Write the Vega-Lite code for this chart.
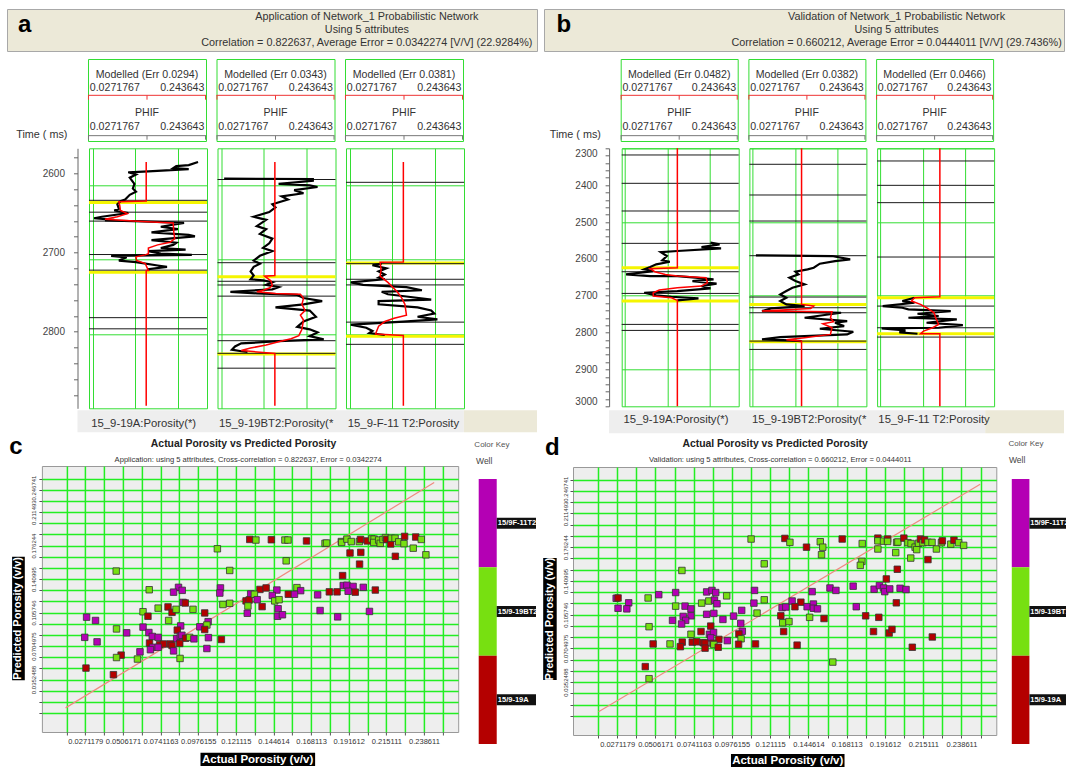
{
"$schema":"https://vega.github.io/schema/vega-lite/v6.json",
"padding":{"left":6,"top":8,"right":0,"bottom":0},
"background":"white",
"data":{"values":[{}]},
"config":{"font":"Liberation Sans","view":{"stroke":"#33dd33","strokeWidth":1}},
"datasets":{
"hdrA":[{"w":"15_9-19A","err":"Modelled (Err 0.0294)"},{"w":"15_9-19BT2","err":"Modelled (Err 0.0343)"},{"w":"15_9-F-11 T2","err":"Modelled (Err 0.0381)"}],
"hdrB":[{"w":"15_9-19A","err":"Modelled (Err 0.0482)"},{"w":"15_9-19BT2","err":"Modelled (Err 0.0382)"},{"w":"15_9-F-11 T2","err":"Modelled (Err 0.0466)"}],
"wells":[{"w":"15/9F-11T2"},{"w":"15/9-19BT2"},{"w":"15/9-19A"}],
"logA":[
{"w":"15_9-19A","k":"zone","t":2623},{"w":"15_9-19A","k":"zone","t":2717},
{"w":"15_9-19A","k":"top","t":2620},{"w":"15_9-19A","k":"top","t":2636},{"w":"15_9-19A","k":"top","t":2648},{"w":"15_9-19A","k":"top","t":2693},{"w":"15_9-19A","k":"top","t":2714},{"w":"15_9-19A","k":"top","t":2778},{"w":"15_9-19A","k":"top","t":2793},
{"w":"15_9-19A","k":"obs","t":2568.4,"p":0.24175},{"w":"15_9-19A","k":"obs","t":2572.6,"p":0.22282},{"w":"15_9-19A","k":"obs","t":2573.9,"p":0.19757},{"w":"15_9-19A","k":"obs","t":2576.8,"p":0.19126},{"w":"15_9-19A","k":"obs","t":2578.1,"p":0.22282},{"w":"15_9-19A","k":"obs","t":2581.1,"p":0.14077},{"w":"15_9-19A","k":"obs","t":2582.3,"p":0.09975},{"w":"15_9-19A","k":"obs","t":2585.3,"p":0.11553},{"w":"15_9-19A","k":"obs","t":2589.5,"p":0.10291},{"w":"15_9-19A","k":"obs","t":2597.9,"p":0.11237},{"w":"15_9-19A","k":"obs","t":2604.2,"p":0.10922},{"w":"15_9-19A","k":"obs","t":2608.4,"p":0.11553},{"w":"15_9-19A","k":"obs","t":2612.6,"p":0.10291},{"w":"15_9-19A","k":"obs","t":2618.9,"p":0.09344},{"w":"15_9-19A","k":"obs","t":2621.1,"p":0.08398},{"w":"15_9-19A","k":"obs","t":2625.3,"p":0.07767},{"w":"15_9-19A","k":"obs","t":2631.6,"p":0.08082},{"w":"15_9-19A","k":"obs","t":2633.7,"p":0.07135},{"w":"15_9-19A","k":"obs","t":2637.1,"p":0.09975},{"w":"15_9-19A","k":"obs","t":2642.1,"p":0.04611},{"w":"15_9-19A","k":"obs","t":2644.2,"p":0.03033},{"w":"15_9-19A","k":"obs","t":2646.3,"p":0.07135},{"w":"15_9-19A","k":"obs","t":2647.2,"p":0.05242},{"w":"15_9-19A","k":"obs","t":2648.4,"p":0.12815},{"w":"15_9-19A","k":"obs","t":2650.5,"p":0.21335},{"w":"15_9-19A","k":"obs","t":2655.6,"p":0.16602},{"w":"15_9-19A","k":"obs","t":2658.9,"p":0.20073},{"w":"15_9-19A","k":"obs","t":2663.2,"p":0.14708},{"w":"15_9-19A","k":"obs","t":2666.5,"p":0.22282},{"w":"15_9-19A","k":"obs","t":2668.6,"p":0.23544},{"w":"15_9-19A","k":"obs","t":2673.7,"p":0.14708},{"w":"15_9-19A","k":"obs","t":2677.1,"p":0.19757},{"w":"15_9-19A","k":"obs","t":2680.0,"p":0.19126},{"w":"15_9-19A","k":"obs","t":2684.2,"p":0.16602},{"w":"15_9-19A","k":"obs","t":2686.3,"p":0.21651},{"w":"15_9-19A","k":"obs","t":2688.4,"p":0.14077},{"w":"15_9-19A","k":"obs","t":2691.8,"p":0.16602},{"w":"15_9-19A","k":"obs","t":2693.5,"p":0.22913},{"w":"15_9-19A","k":"obs","t":2694.7,"p":0.06504},{"w":"15_9-19A","k":"obs","t":2696.8,"p":0.0966},{"w":"15_9-19A","k":"obs","t":2701.1,"p":0.08082},{"w":"15_9-19A","k":"obs","t":2703.2,"p":0.11553},{"w":"15_9-19A","k":"obs","t":2707.8,"p":0.15971},{"w":"15_9-19A","k":"obs","t":2709.5,"p":0.17864},{"w":"15_9-19A","k":"obs","t":2712.8,"p":0.14077},{"w":"15_9-19A","k":"obs","t":2714.5,"p":0.14077},
{"w":"15_9-19A","k":"mod","t":2568.4,"p":0.13636},{"w":"15_9-19A","k":"mod","t":2621.1,"p":0.13636},{"w":"15_9-19A","k":"mod","t":2621.9,"p":0.08082},{"w":"15_9-19A","k":"mod","t":2627.4,"p":0.08271},{"w":"15_9-19A","k":"mod","t":2633.7,"p":0.08397},{"w":"15_9-19A","k":"mod","t":2637.9,"p":0.09786},{"w":"15_9-19A","k":"mod","t":2642.1,"p":0.07766},{"w":"15_9-19A","k":"mod","t":2645.5,"p":0.05242},{"w":"15_9-19A","k":"mod","t":2648.4,"p":0.12815},{"w":"15_9-19A","k":"mod","t":2650.5,"p":0.19126},{"w":"15_9-19A","k":"mod","t":2663.2,"p":0.19252},{"w":"15_9-19A","k":"mod","t":2671.6,"p":0.19441},{"w":"15_9-19A","k":"mod","t":2676.6,"p":0.18495},{"w":"15_9-19A","k":"mod","t":2680.0,"p":0.15971},{"w":"15_9-19A","k":"mod","t":2684.2,"p":0.14077},{"w":"15_9-19A","k":"mod","t":2691.8,"p":0.14077},{"w":"15_9-19A","k":"mod","t":2693.5,"p":0.13446},{"w":"15_9-19A","k":"mod","t":2696.0,"p":0.11551},{"w":"15_9-19A","k":"mod","t":2701.1,"p":0.11678},{"w":"15_9-19A","k":"mod","t":2705.3,"p":0.13446},{"w":"15_9-19A","k":"mod","t":2714.5,"p":0.14077},{"w":"15_9-19A","k":"mod","t":2714.6,"p":0.13636},{"w":"15_9-19A","k":"mod","t":2896.7,"p":0.13636},
{"w":"15_9-19BT2","k":"zone","t":2723},{"w":"15_9-19BT2","k":"zone","t":2827},
{"w":"15_9-19BT2","k":"top","t":2592},{"w":"15_9-19BT2","k":"top","t":2704},{"w":"15_9-19BT2","k":"top","t":2729},{"w":"15_9-19BT2","k":"top","t":2734},{"w":"15_9-19BT2","k":"top","t":2749},{"w":"15_9-19BT2","k":"top","t":2809},{"w":"15_9-19BT2","k":"top","t":2826},{"w":"15_9-19BT2","k":"top","t":2846},
{"w":"15_9-19BT2","k":"obs","t":2590.7,"p":0.0335},{"w":"15_9-19BT2","k":"obs","t":2591.6,"p":0.2139},{"w":"15_9-19BT2","k":"obs","t":2593.7,"p":0.2139},{"w":"15_9-19BT2","k":"obs","t":2597.9,"p":0.14427},{"w":"15_9-19BT2","k":"obs","t":2600.0,"p":0.20756},{"w":"15_9-19BT2","k":"obs","t":2602.1,"p":0.22339},{"w":"15_9-19BT2","k":"obs","t":2606.3,"p":0.17592},{"w":"15_9-19BT2","k":"obs","t":2610.5,"p":0.19491},{"w":"15_9-19BT2","k":"obs","t":2614.7,"p":0.1506},{"w":"15_9-19BT2","k":"obs","t":2618.9,"p":0.16326},{"w":"15_9-19BT2","k":"obs","t":2625.3,"p":0.13161},{"w":"15_9-19BT2","k":"obs","t":2629.5,"p":0.13794},{"w":"15_9-19BT2","k":"obs","t":2635.8,"p":0.12528},{"w":"15_9-19BT2","k":"obs","t":2642.1,"p":0.09364},{"w":"15_9-19BT2","k":"obs","t":2646.3,"p":0.11895},{"w":"15_9-19BT2","k":"obs","t":2654.7,"p":0.09997},{"w":"15_9-19BT2","k":"obs","t":2658.9,"p":0.11895},{"w":"15_9-19BT2","k":"obs","t":2665.3,"p":0.10629},{"w":"15_9-19BT2","k":"obs","t":2671.6,"p":0.13161},{"w":"15_9-19BT2","k":"obs","t":2677.9,"p":0.12528},{"w":"15_9-19BT2","k":"obs","t":2684.2,"p":0.11263},{"w":"15_9-19BT2","k":"obs","t":2688.4,"p":0.13161},{"w":"15_9-19BT2","k":"obs","t":2694.7,"p":0.10629},{"w":"15_9-19BT2","k":"obs","t":2701.1,"p":0.09364},{"w":"15_9-19BT2","k":"obs","t":2705.3,"p":0.10629},{"w":"15_9-19BT2","k":"obs","t":2709.5,"p":0.09364},{"w":"15_9-19BT2","k":"obs","t":2715.8,"p":0.08731},{"w":"15_9-19BT2","k":"obs","t":2721.3,"p":0.09364},{"w":"15_9-19BT2","k":"obs","t":2726.3,"p":0.08731},{"w":"15_9-19BT2","k":"obs","t":2727.6,"p":0.11263},{"w":"15_9-19BT2","k":"obs","t":2730.5,"p":0.13161},{"w":"15_9-19BT2","k":"obs","t":2733.9,"p":0.11895},{"w":"15_9-19BT2","k":"obs","t":2736.8,"p":0.14427},{"w":"15_9-19BT2","k":"obs","t":2739.8,"p":0.13161},{"w":"15_9-19BT2","k":"obs","t":2743.2,"p":0.04616},{"w":"15_9-19BT2","k":"obs","t":2745.3,"p":0.09997},{"w":"15_9-19BT2","k":"obs","t":2747.4,"p":0.18225},{"w":"15_9-19BT2","k":"obs","t":2751.6,"p":0.19491},{"w":"15_9-19BT2","k":"obs","t":2755.8,"p":0.23288},{"w":"15_9-19BT2","k":"obs","t":2760.0,"p":0.19491},{"w":"15_9-19BT2","k":"obs","t":2764.2,"p":0.13794},{"w":"15_9-19BT2","k":"obs","t":2768.4,"p":0.20756},{"w":"15_9-19BT2","k":"obs","t":2776.8,"p":0.22022},{"w":"15_9-19BT2","k":"obs","t":2783.2,"p":0.19491},{"w":"15_9-19BT2","k":"obs","t":2790.3,"p":0.18225},{"w":"15_9-19BT2","k":"obs","t":2793.7,"p":0.20756},{"w":"15_9-19BT2","k":"obs","t":2797.9,"p":0.22339},{"w":"15_9-19BT2","k":"obs","t":2802.9,"p":0.20756},{"w":"15_9-19BT2","k":"obs","t":2807.2,"p":0.23604},{"w":"15_9-19BT2","k":"obs","t":2809.7,"p":0.14427},{"w":"15_9-19BT2","k":"obs","t":2812.6,"p":0.06832},{"w":"15_9-19BT2","k":"obs","t":2816.8,"p":0.05566},{"w":"15_9-19BT2","k":"obs","t":2821.1,"p":0.04932},{"w":"15_9-19BT2","k":"obs","t":2823.2,"p":0.06832},{"w":"15_9-19BT2","k":"obs","t":2824.0,"p":0.08098},
{"w":"15_9-19BT2","k":"mod","t":2568.4,"p":0.13668},{"w":"15_9-19BT2","k":"mod","t":2721.3,"p":0.13668},{"w":"15_9-19BT2","k":"mod","t":2722.1,"p":0.11579},{"w":"15_9-19BT2","k":"mod","t":2728.4,"p":0.12845},{"w":"15_9-19BT2","k":"mod","t":2734.7,"p":0.13161},{"w":"15_9-19BT2","k":"mod","t":2738.1,"p":0.12528},{"w":"15_9-19BT2","k":"mod","t":2741.1,"p":0.11263},{"w":"15_9-19BT2","k":"mod","t":2743.2,"p":0.09997},{"w":"15_9-19BT2","k":"mod","t":2745.3,"p":0.13794},{"w":"15_9-19BT2","k":"mod","t":2746.5,"p":0.18858},{"w":"15_9-19BT2","k":"mod","t":2751.6,"p":0.19491},{"w":"15_9-19BT2","k":"mod","t":2760.0,"p":0.19174},{"w":"15_9-19BT2","k":"mod","t":2768.4,"p":0.19807},{"w":"15_9-19BT2","k":"mod","t":2774.7,"p":0.18858},{"w":"15_9-19BT2","k":"mod","t":2781.1,"p":0.19491},{"w":"15_9-19BT2","k":"mod","t":2793.7,"p":0.19174},{"w":"15_9-19BT2","k":"mod","t":2802.1,"p":0.18541},{"w":"15_9-19BT2","k":"mod","t":2806.3,"p":0.16959},{"w":"15_9-19BT2","k":"mod","t":2810.5,"p":0.14427},{"w":"15_9-19BT2","k":"mod","t":2814.7,"p":0.11895},{"w":"15_9-19BT2","k":"mod","t":2818.9,"p":0.08731},{"w":"15_9-19BT2","k":"mod","t":2822.3,"p":0.06832},{"w":"15_9-19BT2","k":"mod","t":2826.1,"p":0.13668},{"w":"15_9-19BT2","k":"mod","t":2896.7,"p":0.13668},
{"w":"15_9-F-11 T2","k":"zone","t":2704.4},{"w":"15_9-F-11 T2","k":"zone","t":2802.9},
{"w":"15_9-F-11 T2","k":"top","t":2595.8},{"w":"15_9-F-11 T2","k":"top","t":2705.3},{"w":"15_9-F-11 T2","k":"top","t":2726.3},{"w":"15_9-F-11 T2","k":"top","t":2733.9},{"w":"15_9-F-11 T2","k":"top","t":2784.0},{"w":"15_9-F-11 T2","k":"top","t":2813.9},
{"w":"15_9-F-11 T2","k":"obs","t":2705.3,"p":0.09262},{"w":"15_9-F-11 T2","k":"obs","t":2707.4,"p":0.07374},{"w":"15_9-F-11 T2","k":"obs","t":2711.6,"p":0.10206},{"w":"15_9-F-11 T2","k":"obs","t":2715.8,"p":0.08633},{"w":"15_9-F-11 T2","k":"obs","t":2720.0,"p":0.09891},{"w":"15_9-F-11 T2","k":"obs","t":2724.2,"p":0.08633},{"w":"15_9-F-11 T2","k":"obs","t":2726.3,"p":0.09891},{"w":"15_9-F-11 T2","k":"obs","t":2730.5,"p":0.02969},{"w":"15_9-F-11 T2","k":"obs","t":2733.9,"p":0.05486},{"w":"15_9-F-11 T2","k":"obs","t":2736.8,"p":0.14296},{"w":"15_9-F-11 T2","k":"obs","t":2741.1,"p":0.17443},{"w":"15_9-F-11 T2","k":"obs","t":2743.2,"p":0.09262},{"w":"15_9-F-11 T2","k":"obs","t":2746.5,"p":0.10521},{"w":"15_9-F-11 T2","k":"obs","t":2749.5,"p":0.14296},{"w":"15_9-F-11 T2","k":"obs","t":2753.7,"p":0.19331},{"w":"15_9-F-11 T2","k":"obs","t":2755.8,"p":0.08633},{"w":"15_9-F-11 T2","k":"obs","t":2760.0,"p":0.08633},{"w":"15_9-F-11 T2","k":"obs","t":2764.2,"p":0.16555},{"w":"15_9-F-11 T2","k":"obs","t":2768.4,"p":0.19331},{"w":"15_9-F-11 T2","k":"obs","t":2772.6,"p":0.1996},{"w":"15_9-F-11 T2","k":"obs","t":2776.8,"p":0.16555},{"w":"15_9-F-11 T2","k":"obs","t":2780.2,"p":0.20589},{"w":"15_9-F-11 T2","k":"obs","t":2783.2,"p":0.13667},{"w":"15_9-F-11 T2","k":"obs","t":2787.4,"p":0.02969},{"w":"15_9-F-11 T2","k":"obs","t":2791.6,"p":0.06115},{"w":"15_9-F-11 T2","k":"obs","t":2795.8,"p":0.07374},{"w":"15_9-F-11 T2","k":"obs","t":2798.7,"p":0.06744},{"w":"15_9-F-11 T2","k":"obs","t":2801.3,"p":0.09891},
{"w":"15_9-F-11 T2","k":"mod","t":2568.4,"p":0.13667},{"w":"15_9-F-11 T2","k":"mod","t":2703.2,"p":0.13667},{"w":"15_9-F-11 T2","k":"mod","t":2703.3,"p":0.08947},{"w":"15_9-F-11 T2","k":"mod","t":2713.7,"p":0.09136},{"w":"15_9-F-11 T2","k":"mod","t":2722.1,"p":0.08947},{"w":"15_9-F-11 T2","k":"mod","t":2730.5,"p":0.1052},{"w":"15_9-F-11 T2","k":"mod","t":2743.2,"p":0.12409},{"w":"15_9-F-11 T2","k":"mod","t":2751.6,"p":0.13352},{"w":"15_9-F-11 T2","k":"mod","t":2760.0,"p":0.13982},{"w":"15_9-F-11 T2","k":"mod","t":2774.7,"p":0.14296},{"w":"15_9-F-11 T2","k":"mod","t":2778.9,"p":0.11779},{"w":"15_9-F-11 T2","k":"mod","t":2783.2,"p":0.09892},{"w":"15_9-F-11 T2","k":"mod","t":2789.5,"p":0.08633},{"w":"15_9-F-11 T2","k":"mod","t":2800.0,"p":0.08004},{"w":"15_9-F-11 T2","k":"mod","t":2802.1,"p":0.13667},{"w":"15_9-F-11 T2","k":"mod","t":2896.7,"p":0.13667}
],
"logB":[
{"w":"15_9-19A","k":"zone","t":2624.0},{"w":"15_9-19A","k":"zone","t":2714.5},
{"w":"15_9-19A","k":"top","t":2318.1},{"w":"15_9-19A","k":"top","t":2395.0},{"w":"15_9-19A","k":"top","t":2470.1},{"w":"15_9-19A","k":"top","t":2557.9},{"w":"15_9-19A","k":"top","t":2634.9},{"w":"15_9-19A","k":"top","t":2693.7},{"w":"15_9-19A","k":"top","t":2777.8},{"w":"15_9-19A","k":"top","t":2794.1},
{"w":"15_9-19A","k":"obs","t":2556.1,"p":0.2022},{"w":"15_9-19A","k":"obs","t":2560.6,"p":0.22076},{"w":"15_9-19A","k":"obs","t":2567.9,"p":0.18365},{"w":"15_9-19A","k":"obs","t":2571.5,"p":0.22385},{"w":"15_9-19A","k":"obs","t":2578.7,"p":0.13417},{"w":"15_9-19A","k":"obs","t":2581.5,"p":0.10016},{"w":"15_9-19A","k":"obs","t":2592.3,"p":0.11253},{"w":"15_9-19A","k":"obs","t":2604.1,"p":0.10325},{"w":"15_9-19A","k":"obs","t":2607.7,"p":0.11871},{"w":"15_9-19A","k":"obs","t":2614.9,"p":0.09088},{"w":"15_9-19A","k":"obs","t":2622.2,"p":0.07851},{"w":"15_9-19A","k":"obs","t":2628.5,"p":0.06614},{"w":"15_9-19A","k":"obs","t":2633.0,"p":0.0847},{"w":"15_9-19A","k":"obs","t":2642.1,"p":0.02903},{"w":"15_9-19A","k":"obs","t":2646.6,"p":0.07851},{"w":"15_9-19A","k":"obs","t":2646.6,"p":0.13417},{"w":"15_9-19A","k":"obs","t":2651.1,"p":0.17128},{"w":"15_9-19A","k":"obs","t":2655.7,"p":0.20839},{"w":"15_9-19A","k":"obs","t":2660.2,"p":0.16509},{"w":"15_9-19A","k":"obs","t":2667.4,"p":0.21458},{"w":"15_9-19A","k":"obs","t":2673.8,"p":0.18365},{"w":"15_9-19A","k":"obs","t":2680.1,"p":0.2022},{"w":"15_9-19A","k":"obs","t":2687.3,"p":0.13417},{"w":"15_9-19A","k":"obs","t":2691.9,"p":0.06614},{"w":"15_9-19A","k":"obs","t":2699.1,"p":0.09088},{"w":"15_9-19A","k":"obs","t":2702.7,"p":0.1218},{"w":"15_9-19A","k":"obs","t":2707.3,"p":0.17746},{"w":"15_9-19A","k":"obs","t":2712.7,"p":0.13417},
{"w":"15_9-19A","k":"mod","t":2300,"p":0.13417},{"w":"15_9-19A","k":"mod","t":2624.0,"p":0.13417},{"w":"15_9-19A","k":"mod","t":2626.7,"p":0.07851},{"w":"15_9-19A","k":"mod","t":2634.9,"p":0.08779},{"w":"15_9-19A","k":"mod","t":2642.1,"p":0.10943},{"w":"15_9-19A","k":"mod","t":2646.6,"p":0.13417},{"w":"15_9-19A","k":"mod","t":2651.1,"p":0.19293},{"w":"15_9-19A","k":"mod","t":2664.7,"p":0.19602},{"w":"15_9-19A","k":"mod","t":2673.8,"p":0.18365},{"w":"15_9-19A","k":"mod","t":2678.3,"p":0.13417},{"w":"15_9-19A","k":"mod","t":2684.6,"p":0.09706},{"w":"15_9-19A","k":"mod","t":2691.9,"p":0.0847},{"w":"15_9-19A","k":"mod","t":2700.9,"p":0.0847},{"w":"15_9-19A","k":"mod","t":2705.4,"p":0.1218},{"w":"15_9-19A","k":"mod","t":2712.7,"p":0.13417},{"w":"15_9-19A","k":"mod","t":3000,"p":0.13417},
{"w":"15_9-19BT2","k":"zone","t":2723.5},{"w":"15_9-19BT2","k":"zone","t":2824.9},
{"w":"15_9-19BT2","k":"top","t":2343.4},{"w":"15_9-19BT2","k":"top","t":2426.7},{"w":"15_9-19BT2","k":"top","t":2497.3},{"w":"15_9-19BT2","k":"top","t":2591.4},{"w":"15_9-19BT2","k":"top","t":2703.6},{"w":"15_9-19BT2","k":"top","t":2732.6},{"w":"15_9-19BT2","k":"top","t":2746.2},{"w":"15_9-19BT2","k":"top","t":2823.1},{"w":"15_9-19BT2","k":"top","t":2845.7},
{"w":"15_9-19BT2","k":"obs","t":2590.5,"p":0.03341},{"w":"15_9-19BT2","k":"obs","t":2592.3,"p":0.18937},{"w":"15_9-19BT2","k":"obs","t":2601.4,"p":0.2268},{"w":"15_9-19BT2","k":"obs","t":2605.9,"p":0.19561},{"w":"15_9-19BT2","k":"obs","t":2613.1,"p":0.16442},{"w":"15_9-19BT2","k":"obs","t":2624.0,"p":0.15194},{"w":"15_9-19BT2","k":"obs","t":2628.5,"p":0.13946},{"w":"15_9-19BT2","k":"obs","t":2634.9,"p":0.11451},{"w":"15_9-19BT2","k":"obs","t":2642.1,"p":0.12075},{"w":"15_9-19BT2","k":"obs","t":2651.1,"p":0.10204},{"w":"15_9-19BT2","k":"obs","t":2660.2,"p":0.11451},{"w":"15_9-19BT2","k":"obs","t":2669.2,"p":0.13323},{"w":"15_9-19BT2","k":"obs","t":2678.3,"p":0.10827},{"w":"15_9-19BT2","k":"obs","t":2687.3,"p":0.0958},{"w":"15_9-19BT2","k":"obs","t":2696.4,"p":0.08332},{"w":"15_9-19BT2","k":"obs","t":2705.4,"p":0.0958},{"w":"15_9-19BT2","k":"obs","t":2714.5,"p":0.08332},{"w":"15_9-19BT2","k":"obs","t":2723.5,"p":0.0958},{"w":"15_9-19BT2","k":"obs","t":2728.1,"p":0.13323},{"w":"15_9-19BT2","k":"obs","t":2734.4,"p":0.06461},{"w":"15_9-19BT2","k":"obs","t":2741.6,"p":0.04589},{"w":"15_9-19BT2","k":"obs","t":2746.2,"p":0.20808},{"w":"15_9-19BT2","k":"obs","t":2759.7,"p":0.13323},{"w":"15_9-19BT2","k":"obs","t":2768.8,"p":0.22056},{"w":"15_9-19BT2","k":"obs","t":2773.3,"p":0.19561},{"w":"15_9-19BT2","k":"obs","t":2782.4,"p":0.21432},{"w":"15_9-19BT2","k":"obs","t":2789.6,"p":0.16442},{"w":"15_9-19BT2","k":"obs","t":2797.8,"p":0.23304},{"w":"15_9-19BT2","k":"obs","t":2805.0,"p":0.22056},{"w":"15_9-19BT2","k":"obs","t":2812.2,"p":0.08332},{"w":"15_9-19BT2","k":"obs","t":2818.6,"p":0.04589},{"w":"15_9-19BT2","k":"obs","t":2821.3,"p":0.10204},{"w":"15_9-19BT2","k":"obs","t":2823.1,"p":0.12699},
{"w":"15_9-19BT2","k":"mod","t":2300,"p":0.12699},{"w":"15_9-19BT2","k":"mod","t":2723.5,"p":0.12699},{"w":"15_9-19BT2","k":"mod","t":2728.1,"p":0.15194},{"w":"15_9-19BT2","k":"mod","t":2734.4,"p":0.1457},{"w":"15_9-19BT2","k":"mod","t":2741.6,"p":0.04589},{"w":"15_9-19BT2","k":"mod","t":2743.5,"p":0.18937},{"w":"15_9-19BT2","k":"mod","t":2759.7,"p":0.18625},{"w":"15_9-19BT2","k":"mod","t":2770.6,"p":0.19249},{"w":"15_9-19BT2","k":"mod","t":2776.0,"p":0.17066},{"w":"15_9-19BT2","k":"mod","t":2786.9,"p":0.18937},{"w":"15_9-19BT2","k":"mod","t":2805.0,"p":0.18625},{"w":"15_9-19BT2","k":"mod","t":2814.0,"p":0.13323},{"w":"15_9-19BT2","k":"mod","t":2819.5,"p":0.0958},{"w":"15_9-19BT2","k":"mod","t":2823.1,"p":0.12699},{"w":"15_9-19BT2","k":"mod","t":3000,"p":0.12699},
{"w":"15_9-F-11 T2","k":"zone","t":2705.4},{"w":"15_9-F-11 T2","k":"zone","t":2803.2},
{"w":"15_9-F-11 T2","k":"top","t":2334.4},{"w":"15_9-F-11 T2","k":"top","t":2400.5},{"w":"15_9-F-11 T2","k":"top","t":2447.5},{"w":"15_9-F-11 T2","k":"top","t":2595.0},{"w":"15_9-F-11 T2","k":"top","t":2728.1},{"w":"15_9-F-11 T2","k":"top","t":2786.9},{"w":"15_9-F-11 T2","k":"top","t":2812.2},
{"w":"15_9-F-11 T2","k":"obs","t":2705.4,"p":0.09665},{"w":"15_9-F-11 T2","k":"obs","t":2714.5,"p":0.07183},{"w":"15_9-F-11 T2","k":"obs","t":2719.0,"p":0.09665},{"w":"15_9-F-11 T2","k":"obs","t":2728.1,"p":0.03152},{"w":"15_9-F-11 T2","k":"obs","t":2732.6,"p":0.07183},{"w":"15_9-F-11 T2","k":"obs","t":2737.1,"p":0.08424},{"w":"15_9-F-11 T2","k":"obs","t":2741.6,"p":0.17108},{"w":"15_9-F-11 T2","k":"obs","t":2748.9,"p":0.10285},{"w":"15_9-F-11 T2","k":"obs","t":2755.2,"p":0.14627},{"w":"15_9-F-11 T2","k":"obs","t":2759.7,"p":0.08424},{"w":"15_9-F-11 T2","k":"obs","t":2764.3,"p":0.18348},{"w":"15_9-F-11 T2","k":"obs","t":2773.3,"p":0.12146},{"w":"15_9-F-11 T2","k":"obs","t":2779.7,"p":0.19588},{"w":"15_9-F-11 T2","k":"obs","t":2786.9,"p":0.14627},{"w":"15_9-F-11 T2","k":"obs","t":2788.7,"p":0.02924},{"w":"15_9-F-11 T2","k":"obs","t":2794.1,"p":0.07803},{"w":"15_9-F-11 T2","k":"obs","t":2799.6,"p":0.06562},{"w":"15_9-F-11 T2","k":"obs","t":2803.2,"p":0.10285},
{"w":"15_9-F-11 T2","k":"mod","t":2300,"p":0.14875},{"w":"15_9-F-11 T2","k":"mod","t":2702.7,"p":0.14875},{"w":"15_9-F-11 T2","k":"mod","t":2705.4,"p":0.09665},{"w":"15_9-F-11 T2","k":"mod","t":2714.5,"p":0.09044},{"w":"15_9-F-11 T2","k":"mod","t":2723.5,"p":0.10905},{"w":"15_9-F-11 T2","k":"mod","t":2732.6,"p":0.12146},{"w":"15_9-F-11 T2","k":"mod","t":2746.2,"p":0.13696},{"w":"15_9-F-11 T2","k":"mod","t":2759.7,"p":0.14006},{"w":"15_9-F-11 T2","k":"mod","t":2777.8,"p":0.14627},{"w":"15_9-F-11 T2","k":"mod","t":2786.9,"p":0.13386},{"w":"15_9-F-11 T2","k":"mod","t":2795.9,"p":0.11525},{"w":"15_9-F-11 T2","k":"mod","t":2803.2,"p":0.10905},{"w":"15_9-F-11 T2","k":"mod","t":2803.3,"p":0.14875},{"w":"15_9-F-11 T2","k":"mod","t":3000,"p":0.14875}
],
"scC":[
{"a":0.12982,"p":0.1827,"w":"15/9-19A"},{"a":0.10959,"p":0.17287,"w":"15/9-19BT2"},{"a":0.0464,"p":0.1494,"w":"15/9-19BT2"},{"a":0.1173,"p":0.15004,"w":"15/9-19BT2"},{"a":0.06702,"p":0.12974,"w":"15/9-19BT2"},{"a":0.08532,"p":0.13228,"w":"15/9F-11T2"},{"a":0.08224,"p":0.1272,"w":"15/9F-11T2"},{"a":0.08763,"p":0.12911,"w":"15/9F-11T2"},{"a":0.11152,"p":0.13164,"w":"15/9F-11T2"},{"a":0.11113,"p":0.12625,"w":"15/9F-11T2"},{"a":0.1304,"p":0.1253,"w":"15/9F-11T2"},{"a":0.08821,"p":0.11642,"w":"15/9F-11T2"},{"a":0.08955,"p":0.11579,"w":"15/9-19A"},{"a":0.12751,"p":0.11801,"w":"15/9-19A"},{"a":0.12943,"p":0.11896,"w":"15/9-19A"},{"a":0.11306,"p":0.1142,"w":"15/9-19BT2"},{"a":0.1173,"p":0.11547,"w":"15/9-19BT2"},{"a":0.12866,"p":0.11261,"w":"15/9-19BT2"},{"a":0.07877,"p":0.11166,"w":"15/9-19A"},{"a":0.08127,"p":0.10595,"w":"15/9-19A"},{"a":0.08377,"p":0.10913,"w":"15/9-19BT2"},{"a":0.0726,"p":0.11039,"w":"15/9-19BT2"},{"a":0.09437,"p":0.10913,"w":"15/9-19BT2"},{"a":0.06316,"p":0.10659,"w":"15/9-19BT2"},{"a":0.06624,"p":0.10183,"w":"15/9-19A"},{"a":0.10169,"p":0.10532,"w":"15/9-19A"},{"a":0.12828,"p":0.105,"w":"15/9F-11T2"},{"a":0.02791,"p":0.10088,"w":"15/9F-11T2"},{"a":0.03349,"p":0.09739,"w":"15/9F-11T2"},{"a":0.07915,"p":0.09739,"w":"15/9-19BT2"},{"a":0.10381,"p":0.09612,"w":"15/9F-11T2"},{"a":0.08667,"p":0.09168,"w":"15/9F-11T2"},{"a":0.09861,"p":0.09073,"w":"15/9F-11T2"},{"a":0.10304,"p":0.09264,"w":"15/9-19BT2"},{"a":0.10169,"p":0.08788,"w":"15/9-19A"},{"a":0.08455,"p":0.08724,"w":"15/9-19A"},{"a":0.0466,"p":0.08851,"w":"15/9-19BT2"},{"a":0.05295,"p":0.08439,"w":"15/9F-11T2"},{"a":0.06316,"p":0.09042,"w":"15/9F-11T2"},{"a":0.06682,"p":0.08471,"w":"15/9F-11T2"},{"a":0.06894,"p":0.08058,"w":"15/9F-11T2"},{"a":0.0726,"p":0.07963,"w":"15/9F-11T2"},{"a":0.02675,"p":0.07963,"w":"15/9F-11T2"},{"a":0.03446,"p":0.07488,"w":"15/9F-11T2"},{"a":0.08416,"p":0.07836,"w":"15/9F-11T2"},{"a":0.08647,"p":0.0809,"w":"15/9F-11T2"},{"a":0.08744,"p":0.08185,"w":"15/9F-11T2"},{"a":0.08975,"p":0.07868,"w":"15/9-19A"},{"a":0.09225,"p":0.07963,"w":"15/9-19BT2"},{"a":0.09495,"p":0.07805,"w":"15/9F-11T2"},{"a":0.104,"p":0.07932,"w":"15/9F-11T2"},{"a":0.11209,"p":0.07741,"w":"15/9-19A"},{"a":0.06721,"p":0.07361,"w":"15/9-19A"},{"a":0.07356,"p":0.07202,"w":"15/9-19A"},{"a":0.07588,"p":0.07266,"w":"15/9-19A"},{"a":0.08012,"p":0.07266,"w":"15/9-19A"},{"a":0.08127,"p":0.07107,"w":"15/9-19A"},{"a":0.08609,"p":0.07329,"w":"15/9-19A"},{"a":0.06914,"p":0.06917,"w":"15/9F-11T2"},{"a":0.0726,"p":0.06917,"w":"15/9F-11T2"},{"a":0.06779,"p":0.06663,"w":"15/9F-11T2"},{"a":0.08224,"p":0.06536,"w":"15/9F-11T2"},{"a":0.10304,"p":0.0679,"w":"15/9F-11T2"},{"a":0.06124,"p":0.06441,"w":"15/9F-11T2"},{"a":0.04948,"p":0.06092,"w":"15/9-19A"},{"a":0.0466,"p":0.05839,"w":"15/9-19BT2"},{"a":0.0597,"p":0.0568,"w":"15/9-19BT2"},{"a":0.08628,"p":0.05743,"w":"15/9-19BT2"},{"a":0.02752,"p":0.04729,"w":"15/9-19A"},{"a":0.04467,"p":0.04031,"w":"15/9-19A"},
{"a":0.13367,"p":0.18207,"w":"15/9-19BT2"},{"a":0.1433,"p":0.18238,"w":"15/9-19A"},{"a":0.15178,"p":0.18207,"w":"15/9-19BT2"},{"a":0.15371,"p":0.18207,"w":"15/9-19BT2"},{"a":0.16527,"p":0.18111,"w":"15/9-19A"},{"a":0.17683,"p":0.17858,"w":"15/9-19BT2"},{"a":0.17779,"p":0.1789,"w":"15/9-19BT2"},{"a":0.18704,"p":0.18048,"w":"15/9-19BT2"},{"a":0.18723,"p":0.17953,"w":"15/9-19BT2"},{"a":0.1905,"p":0.18302,"w":"15/9-19BT2"},{"a":0.1932,"p":0.18048,"w":"15/9-19BT2"},{"a":0.19821,"p":0.18048,"w":"15/9-19BT2"},{"a":0.19898,"p":0.1827,"w":"15/9-19A"},{"a":0.20322,"p":0.18111,"w":"15/9-19A"},{"a":0.20611,"p":0.18333,"w":"15/9-19BT2"},{"a":0.20746,"p":0.18302,"w":"15/9-19BT2"},{"a":0.20726,"p":0.17953,"w":"15/9-19BT2"},{"a":0.21035,"p":0.18207,"w":"15/9-19BT2"},{"a":0.21131,"p":0.17858,"w":"15/9-19BT2"},{"a":0.21304,"p":0.1827,"w":"15/9-19BT2"},{"a":0.21458,"p":0.1846,"w":"15/9-19BT2"},{"a":0.21536,"p":0.1827,"w":"15/9-19A"},{"a":0.21786,"p":0.17794,"w":"15/9-19A"},{"a":0.21824,"p":0.18397,"w":"15/9-19BT2"},{"a":0.22056,"p":0.18397,"w":"15/9-19BT2"},{"a":0.22287,"p":0.18016,"w":"15/9-19BT2"},{"a":0.22614,"p":0.17826,"w":"15/9-19BT2"},{"a":0.22653,"p":0.18587,"w":"15/9-19A"},{"a":0.23346,"p":0.18524,"w":"15/9-19A"},{"a":0.23693,"p":0.1827,"w":"15/9-19BT2"},{"a":0.23192,"p":0.1735,"w":"15/9-19BT2"},{"a":0.23982,"p":0.16653,"w":"15/9-19BT2"},{"a":0.19243,"p":0.16843,"w":"15/9-19A"},{"a":0.19917,"p":0.16906,"w":"15/9-19A"},{"a":0.22075,"p":0.16494,"w":"15/9-19A"},{"a":0.15255,"p":0.16018,"w":"15/9-19BT2"},{"a":0.1984,"p":0.1567,"w":"15/9-19A"},{"a":0.18781,"p":0.14464,"w":"15/9-19A"},{"a":0.18819,"p":0.13418,"w":"15/9F-11T2"},{"a":0.1905,"p":0.1345,"w":"15/9F-11T2"},{"a":0.19436,"p":0.13323,"w":"15/9F-11T2"},{"a":0.20071,"p":0.13228,"w":"15/9F-11T2"},{"a":0.19127,"p":0.12815,"w":"15/9F-11T2"},{"a":0.1957,"p":0.1272,"w":"15/9-19A"},{"a":0.20823,"p":0.12942,"w":"15/9-19A"},{"a":0.17952,"p":0.12752,"w":"15/9-19A"},{"a":0.18434,"p":0.12752,"w":"15/9-19A"},{"a":0.1722,"p":0.12435,"w":"15/9F-11T2"},{"a":0.13618,"p":0.13006,"w":"15/9-19A"},{"a":0.14003,"p":0.13164,"w":"15/9-19A"},{"a":0.14677,"p":0.12942,"w":"15/9F-11T2"},{"a":0.15929,"p":0.13196,"w":"15/9-19BT2"},{"a":0.16161,"p":0.12879,"w":"15/9F-11T2"},{"a":0.1539,"p":0.12498,"w":"15/9-19A"},{"a":0.15775,"p":0.12498,"w":"15/9F-11T2"},{"a":0.14388,"p":0.12371,"w":"15/9F-11T2"},{"a":0.13271,"p":0.12498,"w":"15/9-19BT2"},{"a":0.13444,"p":0.11927,"w":"15/9F-11T2"},{"a":0.14542,"p":0.11801,"w":"15/9-19BT2"},{"a":0.14812,"p":0.11927,"w":"15/9-19BT2"},{"a":0.13752,"p":0.11198,"w":"15/9-19A"},{"a":0.14754,"p":0.10976,"w":"15/9F-11T2"},{"a":0.17374,"p":0.10786,"w":"15/9F-11T2"},{"a":0.20457,"p":0.10691,"w":"15/9F-11T2"},{"a":0.14716,"p":0.10183,"w":"15/9F-11T2"},{"a":0.15024,"p":0.10342,"w":"15/9F-11T2"},{"a":0.18472,"p":0.1012,"w":"15/9F-11T2"}
],
"scD":[
{"a":0.10939,"p":0.18475,"w":"15/9-19BT2"},{"a":0.13015,"p":0.18539,"w":"15/9-19A"},{"a":0.13323,"p":0.18128,"w":"15/9-19BT2"},{"a":0.0669,"p":0.1519,"w":"15/9-19BT2"},{"a":0.11746,"p":0.15885,"w":"15/9-19BT2"},{"a":0.02652,"p":0.12284,"w":"15/9F-11T2"},{"a":0.02767,"p":0.12316,"w":"15/9-19A"},{"a":0.03421,"p":0.1181,"w":"15/9F-11T2"},{"a":0.02767,"p":0.11242,"w":"15/9F-11T2"},{"a":0.03306,"p":0.11179,"w":"15/9F-11T2"},{"a":0.04613,"p":0.12316,"w":"15/9-19BT2"},{"a":0.05267,"p":0.12663,"w":"15/9F-11T2"},{"a":0.06305,"p":0.12884,"w":"15/9F-11T2"},{"a":0.08209,"p":0.12948,"w":"15/9F-11T2"},{"a":0.08535,"p":0.13106,"w":"15/9F-11T2"},{"a":0.08766,"p":0.12884,"w":"15/9F-11T2"},{"a":0.09439,"p":0.12537,"w":"15/9-19BT2"},{"a":0.1115,"p":0.13106,"w":"15/9F-11T2"},{"a":0.07901,"p":0.11779,"w":"15/9-19BT2"},{"a":0.08343,"p":0.12,"w":"15/9-19BT2"},{"a":0.08689,"p":0.12095,"w":"15/9F-11T2"},{"a":0.08843,"p":0.11716,"w":"15/9F-11T2"},{"a":0.06305,"p":0.11463,"w":"15/9-19BT2"},{"a":0.06882,"p":0.11463,"w":"15/9F-11T2"},{"a":0.07247,"p":0.11179,"w":"15/9F-11T2"},{"a":0.07247,"p":0.10452,"w":"15/9F-11T2"},{"a":0.08209,"p":0.1061,"w":"15/9F-11T2"},{"a":0.08651,"p":0.10705,"w":"15/9F-11T2"},{"a":0.06767,"p":0.10389,"w":"15/9F-11T2"},{"a":0.0692,"p":0.09978,"w":"15/9F-11T2"},{"a":0.06113,"p":0.09978,"w":"15/9F-11T2"},{"a":0.0667,"p":0.09599,"w":"15/9F-11T2"},{"a":0.09208,"p":0.10073,"w":"15/9F-11T2"},{"a":0.09862,"p":0.10421,"w":"15/9F-11T2"},{"a":0.11112,"p":0.11779,"w":"15/9F-11T2"},{"a":0.11746,"p":0.12126,"w":"15/9-19BT2"},{"a":0.11304,"p":0.10737,"w":"15/9-19BT2"},{"a":0.10362,"p":0.11021,"w":"15/9F-11T2"},{"a":0.10304,"p":0.09663,"w":"15/9F-11T2"},{"a":0.08459,"p":0.09378,"w":"15/9-19A"},{"a":0.07863,"p":0.0881,"w":"15/9-19A"},{"a":0.07247,"p":0.08525,"w":"15/9-19BT2"},{"a":0.08382,"p":0.08525,"w":"15/9F-11T2"},{"a":0.08632,"p":0.08715,"w":"15/9F-11T2"},{"a":0.08459,"p":0.08146,"w":"15/9F-11T2"},{"a":0.104,"p":0.08841,"w":"15/9F-11T2"},{"a":0.10189,"p":0.08557,"w":"15/9-19A"},{"a":0.10324,"p":0.08052,"w":"15/9-19BT2"},{"a":0.04671,"p":0.09315,"w":"15/9-19BT2"},{"a":0.08958,"p":0.07988,"w":"15/9-19A"},{"a":0.09478,"p":0.07862,"w":"15/9F-11T2"},{"a":0.04921,"p":0.07515,"w":"15/9-19A"},{"a":0.05959,"p":0.07515,"w":"15/9-19BT2"},{"a":0.06709,"p":0.07704,"w":"15/9-19A"},{"a":0.06594,"p":0.0723,"w":"15/9-19A"},{"a":0.07324,"p":0.07704,"w":"15/9-19A"},{"a":0.07593,"p":0.07736,"w":"15/9-19A"},{"a":0.07997,"p":0.07641,"w":"15/9-19A"},{"a":0.08112,"p":0.07609,"w":"15/9-19A"},{"a":0.08593,"p":0.07578,"w":"15/9-19A"},{"a":0.08651,"p":0.07451,"w":"15/9-19BT2"},{"a":0.08112,"p":0.07072,"w":"15/9-19A"},{"a":0.0892,"p":0.07167,"w":"15/9-19A"},{"a":0.1017,"p":0.07483,"w":"15/9-19A"},{"a":0.11208,"p":0.07515,"w":"15/9-19A"},{"a":0.0444,"p":0.05146,"w":"15/9-19A"},{"a":0.04671,"p":0.03882,"w":"15/9-19BT2"},{"a":0.12842,"p":0.11305,"w":"15/9F-11T2"},{"a":0.13073,"p":0.11368,"w":"15/9F-11T2"},{"a":0.12765,"p":0.10452,"w":"15/9-19A"},{"a":0.12881,"p":0.09726,"w":"15/9-19BT2"},{"a":0.13265,"p":0.09852,"w":"15/9-19BT2"},{"a":0.12938,"p":0.0881,"w":"15/9-19A"},
{"a":0.14342,"p":0.17622,"w":"15/9-19A"},{"a":0.15188,"p":0.18191,"w":"15/9-19BT2"},{"a":0.15342,"p":0.17622,"w":"15/9-19BT2"},{"a":0.15265,"p":0.16833,"w":"15/9-19BT2"},{"a":0.16534,"p":0.18475,"w":"15/9-19A"},{"a":0.17764,"p":0.18002,"w":"15/9-19BT2"},{"a":0.17745,"p":0.16138,"w":"15/9-19BT2"},{"a":0.17649,"p":0.15727,"w":"15/9-19BT2"},{"a":0.18726,"p":0.1857,"w":"15/9-19A"},{"a":0.18726,"p":0.18286,"w":"15/9-19BT2"},{"a":0.18726,"p":0.17433,"w":"15/9-19BT2"},{"a":0.19072,"p":0.18254,"w":"15/9-19BT2"},{"a":0.19322,"p":0.18475,"w":"15/9-19A"},{"a":0.19322,"p":0.18223,"w":"15/9-19BT2"},{"a":0.19879,"p":0.18128,"w":"15/9-19BT2"},{"a":0.19956,"p":0.1816,"w":"15/9-19BT2"},{"a":0.19822,"p":0.17054,"w":"15/9-19BT2"},{"a":0.20322,"p":0.1857,"w":"15/9-19A"},{"a":0.20572,"p":0.18096,"w":"15/9-19BT2"},{"a":0.20764,"p":0.18002,"w":"15/9-19BT2"},{"a":0.21014,"p":0.17622,"w":"15/9-19BT2"},{"a":0.2111,"p":0.1737,"w":"15/9-19BT2"},{"a":0.21225,"p":0.18033,"w":"15/9-19BT2"},{"a":0.21341,"p":0.18475,"w":"15/9-19A"},{"a":0.21494,"p":0.18096,"w":"15/9-19BT2"},{"a":0.21591,"p":0.18381,"w":"15/9-19A"},{"a":0.21802,"p":0.18128,"w":"15/9-19BT2"},{"a":0.22052,"p":0.18128,"w":"15/9-19BT2"},{"a":0.22321,"p":0.17433,"w":"15/9-19BT2"},{"a":0.22629,"p":0.18096,"w":"15/9-19BT2"},{"a":0.22687,"p":0.18286,"w":"15/9-19A"},{"a":0.23206,"p":0.17938,"w":"15/9-19BT2"},{"a":0.23398,"p":0.18349,"w":"15/9-19A"},{"a":0.23686,"p":0.18096,"w":"15/9-19BT2"},{"a":0.23994,"p":0.17812,"w":"15/9-19BT2"},{"a":0.20745,"p":0.16485,"w":"15/9-19BT2"},{"a":0.21802,"p":0.16327,"w":"15/9-19A"},{"a":0.19918,"p":0.15317,"w":"15/9-19A"},{"a":0.19245,"p":0.14306,"w":"15/9-19A"},{"a":0.15784,"p":0.13358,"w":"15/9F-11T2"},{"a":0.16149,"p":0.13106,"w":"15/9F-11T2"},{"a":0.17207,"p":0.13548,"w":"15/9F-11T2"},{"a":0.18495,"p":0.13232,"w":"15/9F-11T2"},{"a":0.18822,"p":0.13611,"w":"15/9F-11T2"},{"a":0.19072,"p":0.13358,"w":"15/9F-11T2"},{"a":0.19149,"p":0.12979,"w":"15/9F-11T2"},{"a":0.19456,"p":0.13263,"w":"15/9F-11T2"},{"a":0.20091,"p":0.13327,"w":"15/9F-11T2"},{"a":0.20456,"p":0.132,"w":"15/9F-11T2"},{"a":0.14688,"p":0.12979,"w":"15/9F-11T2"},{"a":0.13458,"p":0.12,"w":"15/9F-11T2"},{"a":0.13996,"p":0.11874,"w":"15/9-19A"},{"a":0.13631,"p":0.114,"w":"15/9-19A"},{"a":0.1438,"p":0.114,"w":"15/9F-11T2"},{"a":0.14765,"p":0.11684,"w":"15/9F-11T2"},{"a":0.14765,"p":0.11242,"w":"15/9F-11T2"},{"a":0.15015,"p":0.11179,"w":"15/9F-11T2"},{"a":0.17399,"p":0.114,"w":"15/9F-11T2"},{"a":0.1986,"p":0.1181,"w":"15/9-19A"},{"a":0.14534,"p":0.10294,"w":"15/9-19BT2"},{"a":0.15419,"p":0.10168,"w":"15/9-19A"},{"a":0.17976,"p":0.10452,"w":"15/9-19A"},{"a":0.18783,"p":0.10294,"w":"15/9-19A"},{"a":0.18457,"p":0.0881,"w":"15/9-19A"},{"a":0.19418,"p":0.08652,"w":"15/9-19A"},{"a":0.19591,"p":0.09031,"w":"15/9-19A"},{"a":0.22071,"p":0.08241,"w":"15/9-19A"},{"a":0.13765,"p":0.07388,"w":"15/9-19A"},{"a":0.20841,"p":0.07167,"w":"15/9-19A"},{"a":0.15957,"p":0.05619,"w":"15/9-19BT2"}
]
},
"vconcat":[
{"hconcat":[
 {"vconcat":[
  {"width":530,"height":42,"view":{"fill":"#ece9d8","stroke":"#a8a8a8"},
   "layer":[
    {"mark":{"type":"text","text":"a","fontSize":24,"fontWeight":"bold","align":"left","baseline":"alphabetic","color":"#000"},
     "encoding":{"x":{"datum":0.0206,"type":"quantitative","scale":{"domain":[0,1]},"axis":null},"y":{"datum":0.54,"type":"quantitative","scale":{"domain":[0,1],"reverse":true},"axis":null}}},
    {"mark":{"type":"text","text":["Application of Network_1 Probabilistic Network","Using 5 attributes","Correlation = 0.822637, Average Error = 0.0342274 [V/V] (22.9284%)"],"lineHeight":13.2,"fontSize":10.8,"align":"center","baseline":"middle","color":"#333"},
     "encoding":{"x":{"datum":0.679,"type":"quantitative","scale":{"domain":[0,1]},"axis":null},"y":{"datum":0.19,"type":"quantitative","scale":{"domain":[0,1],"reverse":true},"axis":null}}}
   ]},
  {"vconcat":[
   {"hconcat":[
    {"width":71,"height":82,"view":{"stroke":null},"mark":{"type":"text","text":"Time ( ms)","fontSize":10.8,"align":"left","baseline":"middle","color":"#333"},
     "encoding":{"x":{"datum":0.13,"type":"quantitative","scale":{"domain":[0,1]},"axis":null},"y":{"datum":0.93,"type":"quantitative","scale":{"domain":[0,1],"reverse":true},"axis":null}}},
    {"data":{"name":"hdrA"},"facet":{"column":{"field":"w","type":"nominal","sort":["15_9-19A","15_9-19BT2","15_9-F-11 T2"],"header":null}},"spacing":{"column":10.5},"bounds":"flush",
     "spec":{"width":118,"height":82,"layer":[
      {"mark":{"type":"text","fontSize":10.6,"color":"#333","align":"center","baseline":"middle"},"encoding":{"text":{"field":"err"},"x":{"datum":0.5,"type":"quantitative","scale":{"domain":[0,1]},"axis":null},"y":{"datum":0.19,"type":"quantitative","scale":{"domain":[0,1],"reverse":true},"axis":null}}},
      {"mark":{"type":"text","text":"0.0271767","fontSize":10.6,"color":"#333","align":"left","baseline":"middle"},"encoding":{"x":{"datum":0.015},"y":{"datum":0.354}}},
      {"mark":{"type":"text","text":"0.243643","fontSize":10.6,"color":"#333","align":"right","baseline":"middle"},"encoding":{"x":{"datum":0.986},"y":{"datum":0.354}}},
      {"mark":{"type":"rule","color":"#ee3333"},"encoding":{"x":{"datum":0},"x2":{"datum":1},"y":{"datum":0.443}}},
      {"mark":{"type":"rule","color":"#ee3333"},"encoding":{"x":{"datum":0.004},"y":{"datum":0.443},"y2":{"datum":0.496}}},
      {"mark":{"type":"rule","color":"#ee3333"},"encoding":{"x":{"datum":0.5},"y":{"datum":0.443},"y2":{"datum":0.496}}},
      {"mark":{"type":"rule","color":"#ee3333"},"encoding":{"x":{"datum":0.996},"y":{"datum":0.443},"y2":{"datum":0.496}}},
      {"mark":{"type":"text","text":"PHIF","fontSize":10.6,"color":"#333","align":"center","baseline":"middle"},"encoding":{"x":{"datum":0.5},"y":{"datum":0.66}}},
      {"mark":{"type":"text","text":"0.0271767","fontSize":10.6,"color":"#333","align":"left","baseline":"middle"},"encoding":{"x":{"datum":0.015},"y":{"datum":0.833}}},
      {"mark":{"type":"text","text":"0.243643","fontSize":10.6,"color":"#333","align":"right","baseline":"middle"},"encoding":{"x":{"datum":0.986},"y":{"datum":0.833}}},
      {"mark":{"type":"rule","color":"#777"},"encoding":{"x":{"datum":0},"x2":{"datum":1},"y":{"datum":0.935}}},
      {"mark":{"type":"rule","color":"#777"},"encoding":{"x":{"datum":0.004},"y":{"datum":0.935},"y2":{"datum":0.984}}},
      {"mark":{"type":"rule","color":"#777"},"encoding":{"x":{"datum":0.5},"y":{"datum":0.935},"y2":{"datum":0.984}}},
      {"mark":{"type":"rule","color":"#777"},"encoding":{"x":{"datum":0.996},"y":{"datum":0.935},"y2":{"datum":0.984}}}
     ]}}
   ],"spacing":9},
   {"vconcat":[
    {"hconcat":[
     {"width":71,"height":260,"view":{"stroke":null},"mark":{"type":"point","opacity":0},
      "encoding":{"y":{"datum":2600,"type":"quantitative","scale":{"domain":[2568.4,2896.7],"reverse":true},
       "axis":{"orient":"left","offset":-70.5,"values":[2580,2600,2620,2640,2660,2680,2700,2720,2740,2760,2780,2800,2820,2840,2860,2880],"labelExpr":"datum.value % 100 == 0 ? datum.label : ''","format":"d","tickSize":4,"tickColor":"#666","domainColor":"#666","labelFontSize":10,"labelColor":"#444","labelPadding":9,"title":null,"grid":false,"labelOverlap":false}}}},
     {"data":{"name":"logA"},"facet":{"column":{"field":"w","type":"nominal","sort":["15_9-19A","15_9-19BT2","15_9-F-11 T2"],"header":null}},"spacing":{"column":10.5},"bounds":"flush",
      "spec":{"width":118,"height":260,"layer":[
       {"transform":[{"filter":"datum.k=='zone'"}],"mark":{"type":"rule","color":"#f5f500","strokeWidth":3},
        "encoding":{"y":{"field":"t","type":"quantitative","scale":{"domain":[2568.4,2896.7],"reverse":true},"axis":{"values":[2600,2700,2800],"grid":true,"gridColor":"#33dd33","labels":false,"ticks":false,"domain":false,"title":null,"minExtent":0,"maxExtent":0}}}},
       {"transform":[{"filter":"datum.k=='top'"}],"mark":{"type":"rule","color":"#1a1a1a","strokeWidth":1},"encoding":{"y":{"field":"t","type":"quantitative"}}},
       {"transform":[{"filter":"datum.k=='obs'"}],"mark":{"type":"line","color":"#000","strokeWidth":2.2},
        "encoding":{"x":{"field":"p","type":"quantitative","scale":{"domain":[0.0271767,0.243643]},"axis":{"values":[0.0271767,0.0488233,0.0704699,0.0921165,0.1137631,0.1354097,0.1570563,0.1787029,0.2003495,0.2219961,0.2436427],"grid":true,"gridColor":"#33dd33","labels":false,"ticks":false,"domain":false,"title":null,"minExtent":0,"maxExtent":0}},"y":{"field":"t","type":"quantitative"},"order":{"value":null}}},
       {"transform":[{"filter":"datum.k=='mod'"}],"mark":{"type":"line","color":"#ff0000","strokeWidth":1.5},"encoding":{"x":{"field":"p","type":"quantitative"},"y":{"field":"t","type":"quantitative"},"order":{"value":null}}}
      ]}}
    ],"spacing":9},
    {"width":530,"height":22,"view":{"stroke":null},"layer":[
     {"mark":{"type":"rect","color":"#eeeeee"},"encoding":{"x":{"datum":0.133,"type":"quantitative","scale":{"domain":[0,1]},"axis":null},"x2":{"datum":0.862},"y":{"datum":0,"type":"quantitative","scale":{"domain":[0,1],"reverse":true},"axis":null},"y2":{"datum":1}}},
     {"mark":{"type":"rect","color":"#ece9d8"},"encoding":{"x":{"datum":0.862},"x2":{"datum":1},"y":{"datum":0},"y2":{"datum":1}}},
     {"mark":{"type":"text","text":"15_9-19A:Porosity(*)","fontSize":11.3,"align":"left","baseline":"middle","color":"#333","limit":120,"ellipsis":" "},"encoding":{"x":{"datum":0.159},"y":{"datum":0.62}}},
     {"mark":{"type":"text","text":"15_9-19BT2:Porosity(*)","fontSize":11.3,"align":"left","baseline":"middle","color":"#333","limit":118,"ellipsis":" "},"encoding":{"x":{"datum":0.4},"y":{"datum":0.62}}},
     {"mark":{"type":"text","text":"15_9-F-11 T2:Porosity(*)","fontSize":11.3,"align":"left","baseline":"middle","color":"#333","limit":117,"ellipsis":" "},"encoding":{"x":{"datum":0.643},"y":{"datum":0.62}}}
    ]}
   ],"spacing":-3.5}
  ],"spacing":5.3}
 ],"spacing":6},
 {"vconcat":[
  {"width":520,"height":42,"view":{"fill":"#ece9d8","stroke":"#a8a8a8"},
   "layer":[
    {"mark":{"type":"text","text":"b","fontSize":24,"fontWeight":"bold","align":"left","baseline":"alphabetic","color":"#000"},
     "encoding":{"x":{"datum":0.024,"type":"quantitative","scale":{"domain":[0,1]},"axis":null},"y":{"datum":0.54,"type":"quantitative","scale":{"domain":[0,1],"reverse":true},"axis":null}}},
    {"mark":{"type":"text","text":["Validation of Network_1 Probabilistic Network","Using 5 attributes","Correlation = 0.660212, Average Error = 0.0444011 [V/V] (29.7436%)"],"lineHeight":13.2,"fontSize":10.8,"align":"center","baseline":"middle","color":"#333"},
     "encoding":{"x":{"datum":0.678,"type":"quantitative","scale":{"domain":[0,1]},"axis":null},"y":{"datum":0.19,"type":"quantitative","scale":{"domain":[0,1],"reverse":true},"axis":null}}}
   ]},
  {"vconcat":[
   {"hconcat":[
    {"width":66.3,"height":82,"view":{"stroke":null},"mark":{"type":"text","text":"Time ( ms)","fontSize":10.8,"align":"left","baseline":"middle","color":"#333"},
     "encoding":{"x":{"datum":0.086,"type":"quantitative","scale":{"domain":[0,1]},"axis":null},"y":{"datum":0.93,"type":"quantitative","scale":{"domain":[0,1],"reverse":true},"axis":null}}},
    {"data":{"name":"hdrB"},"facet":{"column":{"field":"w","type":"nominal","sort":["15_9-19A","15_9-19BT2","15_9-F-11 T2"],"header":null}},"spacing":{"column":10.7},"bounds":"flush",
     "spec":{"width":117,"height":82,"layer":[
      {"mark":{"type":"text","fontSize":10.6,"color":"#333","align":"center","baseline":"middle"},"encoding":{"text":{"field":"err"},"x":{"datum":0.5,"type":"quantitative","scale":{"domain":[0,1]},"axis":null},"y":{"datum":0.19,"type":"quantitative","scale":{"domain":[0,1],"reverse":true},"axis":null}}},
      {"mark":{"type":"text","text":"0.0271767","fontSize":10.6,"color":"#333","align":"left","baseline":"middle"},"encoding":{"x":{"datum":0.015},"y":{"datum":0.354}}},
      {"mark":{"type":"text","text":"0.243643","fontSize":10.6,"color":"#333","align":"right","baseline":"middle"},"encoding":{"x":{"datum":0.986},"y":{"datum":0.354}}},
      {"mark":{"type":"rule","color":"#ee3333"},"encoding":{"x":{"datum":0},"x2":{"datum":1},"y":{"datum":0.443}}},
      {"mark":{"type":"rule","color":"#ee3333"},"encoding":{"x":{"datum":0.004},"y":{"datum":0.443},"y2":{"datum":0.496}}},
      {"mark":{"type":"rule","color":"#ee3333"},"encoding":{"x":{"datum":0.5},"y":{"datum":0.443},"y2":{"datum":0.496}}},
      {"mark":{"type":"rule","color":"#ee3333"},"encoding":{"x":{"datum":0.996},"y":{"datum":0.443},"y2":{"datum":0.496}}},
      {"mark":{"type":"text","text":"PHIF","fontSize":10.6,"color":"#333","align":"center","baseline":"middle"},"encoding":{"x":{"datum":0.5},"y":{"datum":0.66}}},
      {"mark":{"type":"text","text":"0.0271767","fontSize":10.6,"color":"#333","align":"left","baseline":"middle"},"encoding":{"x":{"datum":0.015},"y":{"datum":0.833}}},
      {"mark":{"type":"text","text":"0.243643","fontSize":10.6,"color":"#333","align":"right","baseline":"middle"},"encoding":{"x":{"datum":0.986},"y":{"datum":0.833}}},
      {"mark":{"type":"rule","color":"#777"},"encoding":{"x":{"datum":0},"x2":{"datum":1},"y":{"datum":0.935}}},
      {"mark":{"type":"rule","color":"#777"},"encoding":{"x":{"datum":0.004},"y":{"datum":0.935},"y2":{"datum":0.984}}},
      {"mark":{"type":"rule","color":"#777"},"encoding":{"x":{"datum":0.5},"y":{"datum":0.935},"y2":{"datum":0.984}}},
      {"mark":{"type":"rule","color":"#777"},"encoding":{"x":{"datum":0.996},"y":{"datum":0.935},"y2":{"datum":0.984}}}
     ]}}
   ],"spacing":8.7},
   {"vconcat":[
    {"hconcat":[
     {"width":66.3,"height":258,"view":{"stroke":null},"mark":{"type":"point","opacity":0},
      "encoding":{"y":{"datum":2600,"type":"quantitative","scale":{"domain":[2300,3000],"reverse":true},
       "axis":{"orient":"left","offset":-65.1,"values":[2300,2320,2340,2360,2380,2400,2420,2440,2460,2480,2500,2520,2540,2560,2580,2600,2620,2640,2660,2680,2700,2720,2740,2760,2780,2800,2820,2840,2860,2880,2900,2920,2940,2960,2980,3000],"labelExpr":"datum.value % 100 == 0 ? datum.label : ''","format":"d","tickSize":4,"tickColor":"#666","domainColor":"#666","labelFontSize":10,"labelColor":"#444","labelPadding":8,"labelFlush":true,"title":null,"grid":false,"labelOverlap":false}}}},
     {"data":{"name":"logB"},"facet":{"column":{"field":"w","type":"nominal","sort":["15_9-19A","15_9-19BT2","15_9-F-11 T2"],"header":null}},"spacing":{"column":10.7},"bounds":"flush",
      "spec":{"width":117,"height":258,"layer":[
       {"transform":[{"filter":"datum.k=='zone'"}],"mark":{"type":"rule","color":"#f5f500","strokeWidth":3},
        "encoding":{"y":{"field":"t","type":"quantitative","scale":{"domain":[2300,3000],"reverse":true},"axis":{"values":[2300,2400,2500,2600,2700,2800,2900,3000],"grid":true,"gridColor":"#33dd33","labels":false,"ticks":false,"domain":false,"title":null,"minExtent":0,"maxExtent":0}}}},
       {"transform":[{"filter":"datum.k=='top'"}],"mark":{"type":"rule","color":"#1a1a1a","strokeWidth":1},"encoding":{"y":{"field":"t","type":"quantitative"}}},
       {"transform":[{"filter":"datum.k=='obs'"}],"mark":{"type":"line","color":"#000","strokeWidth":2.2},
        "encoding":{"x":{"field":"p","type":"quantitative","scale":{"domain":[0.0271767,0.243643]},"axis":{"values":[0.0271767,0.0488233,0.0704699,0.0921165,0.1137631,0.1354097,0.1570563,0.1787029,0.2003495,0.2219961,0.2436427],"grid":true,"gridColor":"#33dd33","labels":false,"ticks":false,"domain":false,"title":null,"minExtent":0,"maxExtent":0}},"y":{"field":"t","type":"quantitative"},"order":{"value":null}}},
       {"transform":[{"filter":"datum.k=='mod'"}],"mark":{"type":"line","color":"#ff0000","strokeWidth":1.5},"encoding":{"x":{"field":"p","type":"quantitative"},"y":{"field":"t","type":"quantitative"},"order":{"value":null}}}
      ]}}
    ],"spacing":8.7},
    {"width":520,"height":23,"view":{"stroke":null},"layer":[
     {"mark":{"type":"rect","color":"#eeeeee"},"encoding":{"x":{"datum":0.125,"type":"quantitative","scale":{"domain":[0,1]},"axis":null},"x2":{"datum":0.8485},"y":{"datum":0,"type":"quantitative","scale":{"domain":[0,1],"reverse":true},"axis":null},"y2":{"datum":1}}},
     {"mark":{"type":"rect","color":"#ece9d8"},"encoding":{"x":{"datum":0.8485},"x2":{"datum":1},"y":{"datum":0},"y2":{"datum":1}}},
     {"mark":{"type":"text","text":"15_9-19A:Porosity(*)","fontSize":11.3,"align":"left","baseline":"middle","color":"#333","limit":120,"ellipsis":" "},"encoding":{"x":{"datum":0.153},"y":{"datum":0.42}}},
     {"mark":{"type":"text","text":"15_9-19BT2:Porosity(*)","fontSize":11.3,"align":"left","baseline":"middle","color":"#333","limit":118,"ellipsis":" "},"encoding":{"x":{"datum":0.4},"y":{"datum":0.42}}},
     {"mark":{"type":"text","text":"15_9-F-11 T2:Porosity(*)","fontSize":11.3,"align":"left","baseline":"middle","color":"#333","limit":117,"ellipsis":" "},"encoding":{"x":{"datum":0.643},"y":{"datum":0.42}}}
    ]}
   ],"spacing":-3.7}
  ],"spacing":2.3}
 ],"spacing":6}
],"spacing":5},
{"hconcat":[
 {"hconcat":[
  {"vconcat":[
   {"width":450,"height":30,"view":{"stroke":null},"layer":[
    {"mark":{"type":"text","text":"c","fontSize":24,"fontWeight":"bold","align":"left","baseline":"alphabetic","color":"#000"},"encoding":{"x":{"datum":0.005,"type":"quantitative","scale":{"domain":[0,1]},"axis":null},"y":{"datum":0.66,"type":"quantitative","scale":{"domain":[0,1],"reverse":true},"axis":null}}},
    {"mark":{"type":"text","text":"Actual Porosity vs Predicted Porosity","fontSize":10.4,"fontWeight":"bold","align":"center","baseline":"middle","color":"#222"},"encoding":{"x":{"datum":0.5256},"y":{"datum":0.343}}},
    {"mark":{"type":"text","text":"Application: using 5 attributes, Cross-correlation = 0.822637, Error = 0.0342274","fontSize":7.6,"align":"center","baseline":"middle","color":"#333"},"encoding":{"x":{"datum":0.536},"y":{"datum":0.857}}}
   ]},
   {"vconcat":[
    {"hconcat":[
     {"width":17.8,"height":266,"view":{"stroke":null},"layer":[
      {"mark":{"type":"rect","color":"#000"},"encoding":{"x":{"datum":0.287,"type":"quantitative","scale":{"domain":[0,1]},"axis":null},"x2":{"datum":1},"y":{"datum":0.341,"type":"quantitative","scale":{"domain":[0,1],"reverse":true},"axis":null},"y2":{"datum":0.805}}},
      {"mark":{"type":"text","text":"Predicted Porosity (v/v)","angle":270,"fontSize":11,"fontWeight":"bold","color":"white","align":"center","baseline":"middle"},"encoding":{"x":{"datum":0.64},"y":{"datum":0.573}}}
     ]},
     {"width":416.3,"height":266,"view":{"fill":"#eeeeee","stroke":"#999999"},"resolve":{"axis":{"x":"independent","y":"independent"}},"layer":[
      {"data":{"values":[{"a":0.0148,"p":0.0054},{"a":0.245,"p":0.2426}]},"mark":{"type":"line","color":"#f08a80","strokeWidth":1.2},
       "encoding":{"x":{"field":"a","type":"quantitative","scale":{"domain":[0.011,0.2516]},
         "axis":{"orient":"bottom","values":[0.0153683,0.0271179,0.0388675,0.0506171,0.0623667,0.0741163,0.0858659,0.0976155,0.1093651,0.1211147,0.1328643,0.1446139,0.1563635,0.1681131,0.1798627,0.1916123,0.2033619,0.2151113,0.2268611,0.2386107,0.2503603],"grid":true,"gridColor":"#22ee22","gridWidth":1.5,"domain":false,"labels":false,"ticks":true,"tickSize":3,"tickColor":"#555","title":null,"minExtent":0,"maxExtent":3}},
        "y":{"field":"p","type":"quantitative","scale":{"domain":[-0.00124,0.25178]},
         "axis":{"orient":"left","values":[0,0.0117496,0.0234992,0.0352488,0.0469984,0.058748,0.0704975,0.0822472,0.0939968,0.1057464,0.117496,0.1292456,0.1409952,0.1527448,0.1644944,0.176244,0.1879936,0.1997432,0.2114928,0.2232424,0.234992,0.2467412],"grid":true,"gridColor":"#22ee22","gridWidth":1.5,"domain":false,"labels":false,"ticks":true,"tickSize":3,"tickColor":"#555","title":null,"minExtent":0,"maxExtent":3}}}},
      {"data":{"name":"scC"},"mark":{"type":"square","size":42,"opacity":1,"stroke":"#333","strokeWidth":0.8},
       "encoding":{"x":{"field":"a","type":"quantitative","axis":{"orient":"bottom","values":[0.0271179,0.0506171,0.0741163,0.0976155,0.1211147,0.1446139,0.1681131,0.1916123,0.2151113,0.2386107],"grid":false,"domain":false,"ticks":false,"tickSize":0,"labelPadding":5,"labelFontSize":7.5,"labelColor":"#333","format":".6r","labelFlush":false,"labelOverlap":false,"title":null,"minExtent":15,"maxExtent":15}},
        "y":{"field":"p","type":"quantitative","axis":{"orient":"left","values":[0.0352488,0.0704975,0.1057464,0.1409952,0.176244,0.2114928,0.2467412],"grid":false,"domain":false,"ticks":false,"tickSize":0,"labelAngle":270,"labelAlign":"center","labelOffset":{"condition":{"test":"datum.value > 0.24","value":9},"value":0},"labelBaseline":"bottom","labelPadding":5,"labelFontSize":6,"labelColor":"#333","format":".6r","labelFlush":false,"labelOverlap":false,"title":null,"minExtent":14,"maxExtent":14}},
        "color":{"field":"w","type":"nominal","scale":{"domain":["15/9F-11T2","15/9-19BT2","15/9-19A"],"range":["#b400b4","#77e011","#b40000"]},"legend":null}}}
     ]}
    ],"spacing":1.9},
    {"width":450,"height":13.3,"view":{"stroke":null},"layer":[
     {"mark":{"type":"rect","color":"#000"},"encoding":{"x":{"datum":0.43,"type":"quantitative","scale":{"domain":[0,1]},"axis":null},"x2":{"datum":0.6847},"y":{"datum":0,"type":"quantitative","scale":{"domain":[0,1],"reverse":true},"axis":null},"y2":{"datum":1}}},
     {"mark":{"type":"text","text":"Actual Porosity (v/v)","fontSize":11.5,"fontWeight":"bold","color":"white","align":"center","baseline":"middle"},"encoding":{"x":{"datum":0.557},"y":{"datum":0.55}}}
    ]}
   ],"spacing":4.7}
  ],"spacing":1},
  {"vconcat":[
   {"width":67,"height":44.3,"view":{"stroke":null},"layer":[
    {"mark":{"type":"text","text":"Color Key","fontSize":8,"align":"left","baseline":"middle","color":"#555"},"encoding":{"x":{"datum":0.05,"type":"quantitative","scale":{"domain":[0,1]},"axis":null},"y":{"datum":0.24,"type":"quantitative","scale":{"domain":[0,1],"reverse":true},"axis":null}}},
    {"mark":{"type":"text","text":"Well","fontSize":8.5,"align":"left","baseline":"middle","color":"#444"},"encoding":{"x":{"datum":0.075},"y":{"datum":0.6}}}
   ]},
   {"width":67,"height":265,"view":{"stroke":null},"data":{"name":"wells"},"layer":[
    {"mark":{"type":"rect"},"encoding":{"y":{"field":"w","type":"nominal","scale":{"domain":["15/9F-11T2","15/9-19BT2","15/9-19A"],"paddingInner":0,"paddingOuter":0},"axis":null},"x":{"datum":0.115,"type":"quantitative","scale":{"domain":[0,1]},"axis":null},"x2":{"datum":0.384},"color":{"field":"w","type":"nominal","scale":{"domain":["15/9F-11T2","15/9-19BT2","15/9-19A"],"range":["#bf00bf","#66ff00","#c00000"]},"legend":null}}},
    {"mark":{"type":"bar","height":11,"color":"#111"},"encoding":{"y":{"field":"w","type":"nominal"},"x":{"datum":0.384},"x2":{"datum":0.97}}},
    {"mark":{"type":"text","align":"left","baseline":"middle","fontSize":7.5,"fontWeight":"bold","color":"white"},"encoding":{"y":{"field":"w","type":"nominal"},"x":{"datum":0.4},"text":{"field":"w"}}}
   ]}
  ],"spacing":0}
 ],"spacing":12},
 {"hconcat":[
  {"vconcat":[
   {"width":456,"height":30,"view":{"stroke":null},"layer":[
    {"mark":{"type":"text","text":"d","fontSize":24,"fontWeight":"bold","align":"left","baseline":"alphabetic","color":"#000"},"encoding":{"x":{"datum":0.0129,"type":"quantitative","scale":{"domain":[0,1]},"axis":null},"y":{"datum":0.7,"type":"quantitative","scale":{"domain":[0,1],"reverse":true},"axis":null}}},
    {"mark":{"type":"text","text":"Actual Porosity vs Predicted Porosity","fontSize":10.4,"fontWeight":"bold","align":"center","baseline":"middle","color":"#222"},"encoding":{"x":{"datum":0.5178},"y":{"datum":0.343}}},
    {"mark":{"type":"text","text":"Validation: using 5 attributes, Cross-correlation = 0.660212, Error = 0.0444011","fontSize":7.6,"align":"center","baseline":"middle","color":"#333"},"encoding":{"x":{"datum":0.529},"y":{"datum":0.877}}}
   ]},
   {"vconcat":[
    {"hconcat":[
     {"width":17.7,"height":268,"view":{"stroke":null},"layer":[
      {"mark":{"type":"rect","color":"#000"},"encoding":{"x":{"datum":0.237,"type":"quantitative","scale":{"domain":[0,1]},"axis":null},"x2":{"datum":1},"y":{"datum":0.34,"type":"quantitative","scale":{"domain":[0,1],"reverse":true},"axis":null},"y2":{"datum":0.795}}},
      {"mark":{"type":"text","text":"Predicted Porosity (v/v)","angle":270,"fontSize":11,"fontWeight":"bold","color":"white","align":"center","baseline":"middle"},"encoding":{"x":{"datum":0.62},"y":{"datum":0.567}}}
     ]},
     {"width":423.3,"height":268,"view":{"fill":"#eeeeee","stroke":"#999999"},"resolve":{"axis":{"x":"independent","y":"independent"}},"layer":[
      {"data":{"values":[{"a":0.0157,"p":0.0044},{"a":0.2501,"p":0.2419}]},"mark":{"type":"line","color":"#f08a80","strokeWidth":1.2},
       "encoding":{"x":{"field":"a","type":"quantitative","scale":{"domain":[0.010581,0.25474]},
         "axis":{"orient":"bottom","values":[0.0153683,0.0271179,0.0388675,0.0506171,0.0623667,0.0741163,0.0858659,0.0976155,0.1093651,0.1211147,0.1328643,0.1446139,0.1563635,0.1681131,0.1798627,0.1916123,0.2033619,0.2151113,0.2268611,0.2386107,0.2503603],"grid":true,"gridColor":"#22ee22","gridWidth":1.5,"domain":false,"labels":false,"ticks":true,"tickSize":3,"tickColor":"#555","title":null,"minExtent":0,"maxExtent":3}},
        "y":{"field":"p","type":"quantitative","scale":{"domain":[-0.0026,0.2514]},
         "axis":{"orient":"left","values":[0,0.0117496,0.0234992,0.0352488,0.0469984,0.058748,0.0704975,0.0822472,0.0939968,0.1057464,0.117496,0.1292456,0.1409952,0.1527448,0.1644944,0.176244,0.1879936,0.1997432,0.2114928,0.2232424,0.234992,0.2467412],"grid":true,"gridColor":"#22ee22","gridWidth":1.5,"domain":false,"labels":false,"ticks":true,"tickSize":3,"tickColor":"#555","title":null,"minExtent":0,"maxExtent":3}}}},
      {"data":{"name":"scD"},"mark":{"type":"square","size":42,"opacity":1,"stroke":"#333","strokeWidth":0.8},
       "encoding":{"x":{"field":"a","type":"quantitative","axis":{"orient":"bottom","values":[0.0271179,0.0506171,0.0741163,0.0976155,0.1211147,0.1446139,0.1681131,0.1916123,0.2151113,0.2386107],"grid":false,"domain":false,"ticks":false,"tickSize":0,"labelPadding":5,"labelFontSize":7.5,"labelColor":"#333","format":".6r","labelFlush":false,"labelOverlap":false,"title":null,"minExtent":15,"maxExtent":15}},
        "y":{"field":"p","type":"quantitative","axis":{"orient":"left","values":[0.0352488,0.0704975,0.1057464,0.1409952,0.176244,0.2114928,0.2467412],"grid":false,"domain":false,"ticks":false,"tickSize":0,"labelAngle":270,"labelAlign":"center","labelOffset":{"condition":{"test":"datum.value > 0.24","value":9},"value":0},"labelBaseline":"bottom","labelPadding":5,"labelFontSize":6,"labelColor":"#333","format":".6r","labelFlush":false,"labelOverlap":false,"title":null,"minExtent":14,"maxExtent":14}},
        "color":{"field":"w","type":"nominal","scale":{"domain":["15/9F-11T2","15/9-19BT2","15/9-19A"],"range":["#b400b4","#77e011","#b40000"]},"legend":null}}}
     ]}
    ],"spacing":1},
    {"width":456,"height":13,"view":{"stroke":null},"layer":[
     {"mark":{"type":"rect","color":"#000"},"encoding":{"x":{"datum":0.421,"type":"quantitative","scale":{"domain":[0,1]},"axis":null},"x2":{"datum":0.67},"y":{"datum":0,"type":"quantitative","scale":{"domain":[0,1],"reverse":true},"axis":null},"y2":{"datum":1}}},
     {"mark":{"type":"text","text":"Actual Porosity (v/v)","fontSize":11.5,"fontWeight":"bold","color":"white","align":"center","baseline":"middle"},"encoding":{"x":{"datum":0.5455},"y":{"datum":0.55}}}
    ]}
   ],"spacing":3}
  ],"spacing":2},
  {"vconcat":[
   {"width":65,"height":45,"view":{"stroke":null},"layer":[
    {"mark":{"type":"text","text":"Color Key","fontSize":8,"align":"left","baseline":"middle","color":"#555"},"encoding":{"x":{"datum":0.114,"type":"quantitative","scale":{"domain":[0,1]},"axis":null},"y":{"datum":0.23,"type":"quantitative","scale":{"domain":[0,1],"reverse":true},"axis":null}}},
    {"mark":{"type":"text","text":"Well","fontSize":8.5,"align":"left","baseline":"middle","color":"#444"},"encoding":{"x":{"datum":0.123},"y":{"datum":0.58}}}
   ]},
   {"width":65,"height":265,"view":{"stroke":null},"data":{"name":"wells"},"layer":[
    {"mark":{"type":"rect"},"encoding":{"y":{"field":"w","type":"nominal","scale":{"domain":["15/9F-11T2","15/9-19BT2","15/9-19A"],"paddingInner":0,"paddingOuter":0},"axis":null},"x":{"datum":0.166,"type":"quantitative","scale":{"domain":[0,1]},"axis":null},"x2":{"datum":0.437},"color":{"field":"w","type":"nominal","scale":{"domain":["15/9F-11T2","15/9-19BT2","15/9-19A"],"range":["#bf00bf","#66ff00","#c00000"]},"legend":null}}},
    {"mark":{"type":"bar","height":11,"color":"#111"},"encoding":{"y":{"field":"w","type":"nominal"},"x":{"datum":0.437},"x2":{"datum":1.1}}},
    {"mark":{"type":"text","align":"left","baseline":"middle","fontSize":7.5,"fontWeight":"bold","color":"white"},"encoding":{"y":{"field":"w","type":"nominal"},"x":{"datum":0.45},"text":{"field":"w"}}}
   ]}
  ],"spacing":0}
 ],"spacing":4}
],"spacing":1}
],
"spacing":-1
}
